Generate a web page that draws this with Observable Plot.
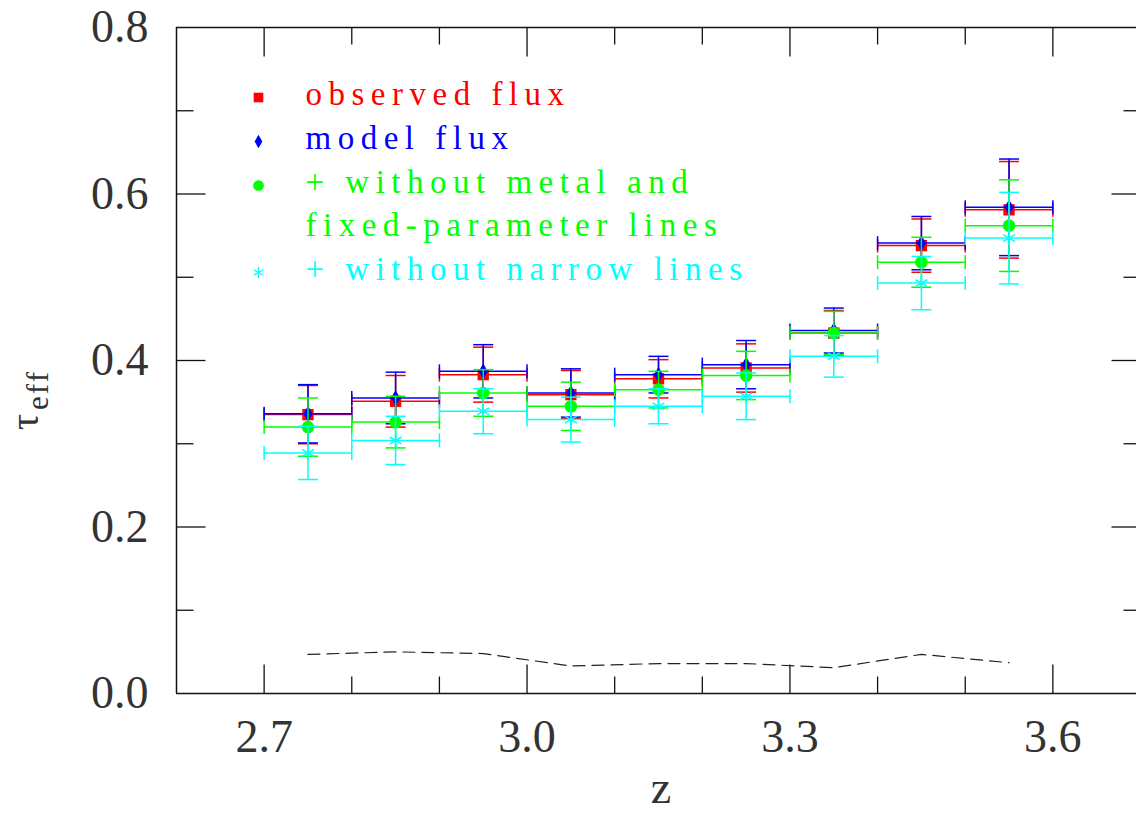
<!DOCTYPE html>
<html><head><meta charset="utf-8">
<script src="https://cdn.jsdelivr.net/npm/d3@7"></script>
<script src="https://cdn.jsdelivr.net/npm/@observablehq/plot@0.6"></script>
<style>html,body{margin:0;padding:0;background:#fff;overflow:hidden}</style>
</head><body><div id="chart"></div>
<script>
// ---- data ----
const zCenters = [2.75, 2.85, 2.95, 3.05, 3.15, 3.25, 3.35, 3.45, 3.55];
const binHalfWidth = 0.05;
const observedFlux    = [0.335, 0.351, 0.383, 0.359, 0.378, 0.391, 0.433, 0.538, 0.581];
const observedFluxErr = [0.035, 0.031, 0.033, 0.029, 0.023, 0.029, 0.027, 0.032, 0.058];
const modelFlux       = [0.336, 0.355, 0.387, 0.361, 0.383, 0.395, 0.436, 0.541, 0.584];
const modelFluxErr    = [0.035, 0.031, 0.032, 0.029, 0.022, 0.029, 0.027, 0.032, 0.058];
const noMetal         = [0.320, 0.326, 0.361, 0.345, 0.365, 0.382, 0.433, 0.518, 0.562];
const noMetalErr      = [0.035, 0.031, 0.028, 0.029, 0.022, 0.029, 0.026, 0.030, 0.055];
const noNarrow        = [0.289, 0.304, 0.339, 0.329, 0.345, 0.357, 0.405, 0.493, 0.547];
const noNarrowErr     = [0.032, 0.029, 0.027, 0.027, 0.021, 0.028, 0.025, 0.032, 0.055];
const noiseLevel      = [0.047, 0.050, 0.048, 0.033, 0.036, 0.036, 0.031, 0.047, 0.037];

const xMajorTicks = [2.7, 3.0, 3.3, 3.6];
const xMinorTicks = [2.8, 2.9, 3.1, 3.2, 3.4, 3.5];
const yMajorTicks = [0.2, 0.4, 0.6];
const yMinorTicks = [0.1, 0.3, 0.5, 0.7];
const yTickLabels = [0.0, 0.2, 0.4, 0.6, 0.8];
const legendLines = [
  ["observed flux"],
  ["model flux"],
  ["+ without metal and", "fixed-parameter lines"],
  ["+ without narrow lines"]
];

// ---- styles ----
const FONT = "Liberation Serif, Times New Roman, serif";
const seg = (x1, y1, x2, y2) => ({draw(ctx) { ctx.moveTo(x1, y1); ctx.lineTo(x2, y2); }});
const hCap = seg(-10, 0, 10, 0);
const vCap = seg(0, -7, 0, 7);

const series = [
  {v: observedFlux, e: observedFluxErr, color: "#ff0000", symbol: "square", r: 6.4, filled: true},
  {v: modelFlux, e: modelFluxErr, color: "#0000ff", symbol: "diamond", r: 4.8, filled: true},
  {v: noMetal, e: noMetalErr, color: "#00ff00", symbol: "circle", r: 6.3, filled: true},
  {v: noNarrow, e: noNarrowErr, color: "#00ffff", symbol: "asterisk", r: 6.5, filled: false}
];

const marks = [];
// frame
marks.push(Plot.ruleY([0, 0.8], {stroke: "#111", strokeWidth: 1.5}));
marks.push(Plot.ruleX([2.6], {stroke: "#111", strokeWidth: 1.5}));
// inward ticks
const tk = (data, opts) => Plot.dot(data, {fill: "none", stroke: "#111", strokeWidth: 1.3, ...opts});
marks.push(tk(xMajorTicks, {x: d => d, y: () => 0, symbol: seg(0, 0, 0, -29)}));
marks.push(tk(xMinorTicks, {x: d => d, y: () => 0, symbol: seg(0, 0, 0, -17)}));
marks.push(tk(xMajorTicks, {x: d => d, y: () => 0.8, symbol: seg(0, 0, 0, 29)}));
marks.push(tk(xMinorTicks, {x: d => d, y: () => 0.8, symbol: seg(0, 0, 0, 17)}));
marks.push(tk(yMajorTicks, {y: d => d, x: () => 2.6, symbol: seg(0, 0, 29, 0)}));
marks.push(tk(yMinorTicks, {y: d => d, x: () => 2.6, symbol: seg(0, 0, 17, 0)}));
marks.push(tk(yMajorTicks, {y: d => d, x: () => 3.7, symbol: seg(0, 0, -29, 0)}));
marks.push(tk(yMinorTicks, {y: d => d, x: () => 3.7, symbol: seg(0, 0, -17, 0)}));

// tick labels
marks.push(Plot.axisX(xMajorTicks, {tickSize: 0, tickPadding: 26, tickFormat: d3.format(".1f"), fontSize: 46, fill: "#333", label: null}));
marks.push(Plot.axisY(yTickLabels, {tickSize: 0, tickPadding: 28, tickFormat: d3.format(".1f"), fontSize: 46, fill: "#333", label: null}));

// noise line
marks.push(Plot.line(zCenters.map((z, i) => ({z, n: noiseLevel[i]})),
  {x: "z", y: "n", stroke: "#222", strokeWidth: 1.2, strokeDasharray: "12,7"}));

// data series
for (const s of series) {
  const rows = zCenters.map((z, i) => ({
    z, lo: z - binHalfWidth, hi: z + binHalfWidth,
    v: s.v[i], top: s.v[i] + s.e[i], bot: s.v[i] - s.e[i]
  }));
  const st = {stroke: s.color, strokeWidth: 1.5};
  marks.push(Plot.ruleY(rows, {y: "v", x1: "lo", x2: "hi", ...st}));
  marks.push(Plot.dot(rows, {x: "lo", y: "v", symbol: vCap, fill: "none", ...st}));
  marks.push(Plot.dot(rows, {x: "hi", y: "v", symbol: vCap, fill: "none", ...st}));
  marks.push(Plot.ruleX(rows, {x: "z", y1: "bot", y2: "top", ...st}));
  marks.push(Plot.dot(rows, {x: "z", y: "top", symbol: hCap, fill: "none", ...st}));
  marks.push(Plot.dot(rows, {x: "z", y: "bot", symbol: hCap, fill: "none", ...st}));
  marks.push(Plot.dot(rows, s.filled
    ? {x: "z", y: "v", symbol: s.symbol, r: s.r, fill: s.color, stroke: "none"}
    : {x: "z", y: "v", symbol: s.symbol, r: s.r, fill: "none", stroke: s.color, strokeWidth: 1.5}));
}

// legend
const rowY = [97, 141, 185, 228, 272];
let row = 0;
series.forEach((s, i) => {
  const dy = rowY[row] - 27;
  marks.push(Plot.dot([0], s.filled
    ? {frameAnchor: "top-left", dx: 82, dy, symbol: s.symbol, r: s.r * 0.85, fill: s.color, stroke: "none"}
    : {frameAnchor: "top-left", dx: 82, dy, symbol: s.symbol, r: s.r * 0.8, fill: "none", stroke: s.color, strokeWidth: 1.3}));
  for (const line of legendLines[i]) {
    marks.push(Plot.text([line], {frameAnchor: "top-left", dx: 129, dy: rowY[row] - 27 - 3, text: d => d,
      textAnchor: "start", lineAnchor: "middle", fill: s.color, fontSize: 33, ariaDescription: "legend"}));
    row++;
  }
});

const svg = Plot.plot({
  width: 1136, height: 814,
  marginLeft: 176, marginRight: 0, marginTop: 27, marginBottom: 121,
  x: {domain: [2.6, 3.7], range: [176, 1140]},
  y: {domain: [0, 0.8]},
  style: {fontFamily: FONT, background: "#fff", color: "#222", overflow: "hidden"},
  marks
});

const sel = d3.select(svg);
sel.selectAll('g[aria-description="legend"] text').style("letter-spacing", "6.5px");

// axis titles
sel.append("text")
  .attr("x", 661).attr("y", 803).attr("text-anchor", "middle")
  .attr("font-family", FONT).attr("font-size", 46).attr("fill", "#333")
  .text("z");
const yl = sel.append("text")
  .attr("transform", "translate(38,400) rotate(-90)")
  .attr("font-family", FONT).attr("font-size", 40).attr("fill", "#333");
yl.append("tspan").text("τ");
yl.append("tspan").attr("dx", 4).attr("dy", 10).attr("font-size", 31).attr("letter-spacing", "2px").text("eff");

document.getElementById("chart").appendChild(svg);
</script>
</body></html>
